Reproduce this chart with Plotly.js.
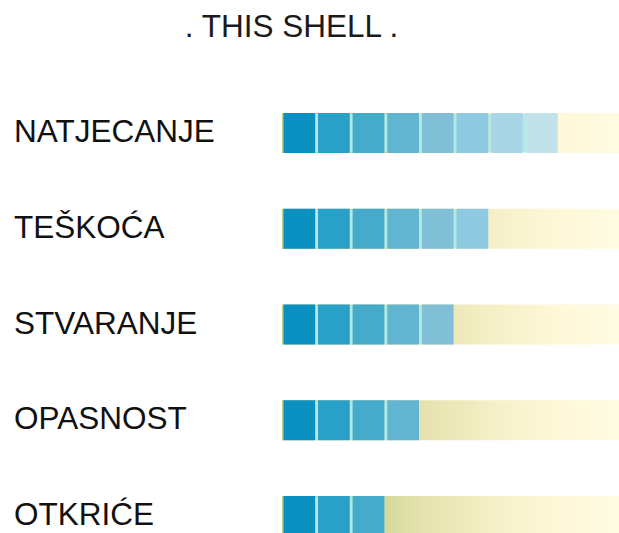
<!DOCTYPE html>
<html>
<head>
<meta charset="utf-8">
<script src="https://cdn.plot.ly/plotly-3.0.1.min.js"></script>
<style>html,body{margin:0;padding:0;background:#fff;}#chart{width:619px;height:533px;}</style>
</head>
<body>
<div id="chart"></div>
<script>
// Data
const categories = ["NATJECANJE", "TEŠKOĆA", "STVARANJE", "OPASNOST", "OTKRIĆE"];
const values = [8, 6, 5, 4, 3];
const trackLength = 10;
const segmentColors = ["#0b91c1", "#29a0c7", "#44abcb", "#62b5d1", "#80bfd5", "#8ecbe2", "#a8d6e6", "#c2e2eb"];
const titleText = ". THIS SHELL .";

const barHalf = 0.209;
const gap = 0.082;
const xRange = [0, 9.74];
const yRange = [4.178, -1.389];
const traces = [];

// background tracks with horizontal gradient (bottom subplot)
categories.forEach((c, i) => {
  traces.push({
    type: "scatter",
    mode: "none",
    x: [0, trackLength, trackLength, 0, 0],
    y: [i - barHalf, i - barHalf, i + barHalf, i + barHalf, i - barHalf],
    fill: "toself",
    fillgradient: {
      type: "horizontal",
      start: 0,
      stop: 9.74,
      colorscale: [
        [0, "#c0ce86"], [0.31, "#d7d99d"], [0.41, "#e4e2ae"], [0.51, "#ede8b8"],
        [0.62, "#f5efc7"], [0.82, "#fff8d8"], [1, "#fffbe2"]
      ]
    },
    xaxis: "x", yaxis: "y",
    hoverinfo: "skip",
    showlegend: false
  });
});

// mint separators underlay (overlaid subplot)
traces.push({
  type: "bar",
  orientation: "h",
  x: values.map(v => v - gap),
  y: categories.map((c, i) => i),
  base: values.map(() => gap / 2),
  width: barHalf * 2 - 0.02,
  xaxis: "x2", yaxis: "y2",
  marker: { color: "#b2eae3", line: { width: 0 } },
  hoverinfo: "skip",
  showlegend: false
});

// segments
const sx = [], sy = [], sb = [], sc = [];
values.forEach((v, i) => {
  for (let k = 0; k < v; k++) {
    sx.push(1 - gap); sy.push(i); sb.push(k + gap / 2); sc.push(segmentColors[k]);
  }
});
traces.push({
  type: "bar",
  orientation: "h",
  x: sx, y: sy, base: sb,
  width: barHalf * 2,
  xaxis: "x2", yaxis: "y2",
  marker: { color: sc, line: { width: 0 } },
  hoverinfo: "skip",
  showlegend: false
});

const labelFont = { family: "Liberation Sans, Arial, sans-serif", size: 31.5, color: "#111" };
const annotations = categories.map((c, i) => ({
  text: c, xref: "paper", yref: "y", x: (12 - 282) / 337, y: i - 0.02,
  xanchor: "left", yanchor: "middle", showarrow: false,
  font: labelFont
}));

const axisBase = { showgrid: false, zeroline: false, showticklabels: false, ticks: "", fixedrange: true, showline: false };

const layout = {
  width: 619, height: 533,
  margin: { l: 282, r: 0, t: 0, b: 0 },
  paper_bgcolor: "#fff", plot_bgcolor: "rgba(0,0,0,0)",
  barmode: "overlay",
  title: {
    text: titleText, x: 0.471, xanchor: "center", y: 0.951, yanchor: "middle",
    font: { family: "Liberation Sans, Arial, sans-serif", size: 31.5, color: "#1a1a1a" }
  },
  xaxis: Object.assign({ range: xRange }, axisBase),
  yaxis: Object.assign({ range: yRange }, axisBase),
  xaxis2: Object.assign({ range: xRange, overlaying: "x" }, axisBase),
  yaxis2: Object.assign({ range: yRange, overlaying: "y" }, axisBase),
  annotations: annotations,
  showlegend: false
};

Plotly.newPlot("chart", traces, layout, { displayModeBar: false, staticPlot: true });
</script>
</body>
</html>
